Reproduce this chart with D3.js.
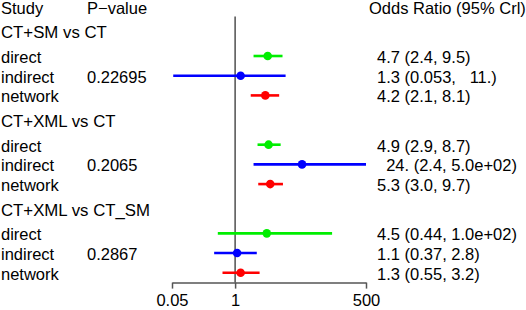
<!DOCTYPE html>
<html>
<head>
<meta charset="utf-8">
<script src="https://cdn.jsdelivr.net/npm/d3@7"></script>
<style>
  html, body { margin: 0; padding: 0; background: #fff; }
  svg text { font-family: "Liberation Sans", Arial, sans-serif; font-size: 16.5px; fill: #000; white-space: pre; }
  svg text.group { font-size: 16.8px; }
</style>
</head>
<body>
<svg id="chart" width="526" height="310"></svg>
<script>
// ---- data ----
const comparisons = ["CT+SM vs CT", "CT+XML vs CT", "CT+XML vs CT_SM"];
const sources = ["direct", "indirect", "network"];
const pValues = ["0.22695", "0.2065", "0.2867"];
const estimates = [
  [4.7, 1.3, 4.2],
  [4.9, 24, 5.3],
  [4.5, 1.1, 1.3]
];
const lowers = [
  [2.4, 0.053, 2.1],
  [2.9, 2.4, 3.0],
  [0.44, 0.37, 0.55]
];
const uppers = [
  [9.5, 11, 8.1],
  [8.7, 500, 9.7],
  [100, 2.8, 3.2]
];
const ciLabels = [
  ["4.7 (2.4, 9.5)", "1.3 (0.053,   11.)", "4.2 (2.1, 8.1)"],
  ["4.9 (2.9, 8.7)", "  24. (2.4, 5.0e+02)", "5.3 (3.0, 9.7)"],
  ["4.5 (0.44, 1.0e+02)", "1.1 (0.37, 2.8)", "1.3 (0.55, 3.2)"]
];
const tickValues = [0.05, 1, 500];
const tickLabels = ["0.05", "1", "500"];
const colors = {direct: "#00ee00", indirect: "#0000ff", network: "#ff0000"};

// ---- layout ----
const svg = d3.select("#chart");
const x = d3.scaleLog().domain([0.05, 500]).range([172, 366]);
const y = d3.scaleLinear().domain([0, 13.5]).range([16.6, 282.6]);
const groupStep = 4.5;
const textShift = 7;

// headers
svg.append("text").attr("x", 1).attr("y", y(-0.5) + textShift).text("Study");
svg.append("text").attr("x", 87).attr("y", y(-0.5) + textShift).text("P\u2212value");
svg.append("text").attr("x", 369).attr("y", y(-0.5) + textShift).text("Odds Ratio (95% Crl)");

// reference line at OR = 1
svg.append("line")
  .attr("x1", x(1)).attr("x2", x(1))
  .attr("y1", y(0)).attr("y2", y(13.5))
  .attr("stroke", "#333").attr("stroke-width", 1.3);

comparisons.forEach((c, g) => {
  const base = g * groupStep;
  svg.append("text").attr("class", "group").attr("x", 1).attr("y", y(base + 0.75) + textShift).text(c);
  sources.forEach((s, i) => {
    const r = base + 2 + i;
    const yy = y(r);
    svg.append("text").attr("x", 1).attr("y", yy + textShift).text(s);
    if (s === "indirect") {
      svg.append("text").attr("x", 87).attr("y", yy + textShift).text(pValues[g]);
    }
    svg.append("text").attr("x", 377).attr("y", yy + textShift).text(ciLabels[g][i]);
    svg.append("line")
      .attr("x1", x(lowers[g][i])).attr("x2", x(uppers[g][i]))
      .attr("y1", yy).attr("y2", yy)
      .attr("stroke", colors[s]).attr("stroke-width", 2.6);
    svg.append("circle")
      .attr("cx", x(estimates[g][i])).attr("cy", yy).attr("r", 4.3)
      .attr("fill", colors[s]);
  });
});

// axis
const axisG = svg.append("g").attr("transform", `translate(0,${y(13.5)})`);
const axis = d3.axisBottom(x).tickValues(tickValues)
  .tickFormat((d, i) => tickLabels[i]).tickSize(6).tickSizeOuter(0);
axisG.call(axis);
axisG.select(".domain").attr("stroke", "#555").attr("stroke-width", 1.5);
axisG.selectAll(".tick line").attr("stroke", "#555").attr("stroke-width", 1.5);
axisG.selectAll(".tick text")
  .attr("y", 23.5).attr("dy", 0)
  .style("font-family", '"Liberation Sans", Arial, sans-serif')
  .style("font-size", "16.5px").attr("fill", "#000");
</script>
</body>
</html>
